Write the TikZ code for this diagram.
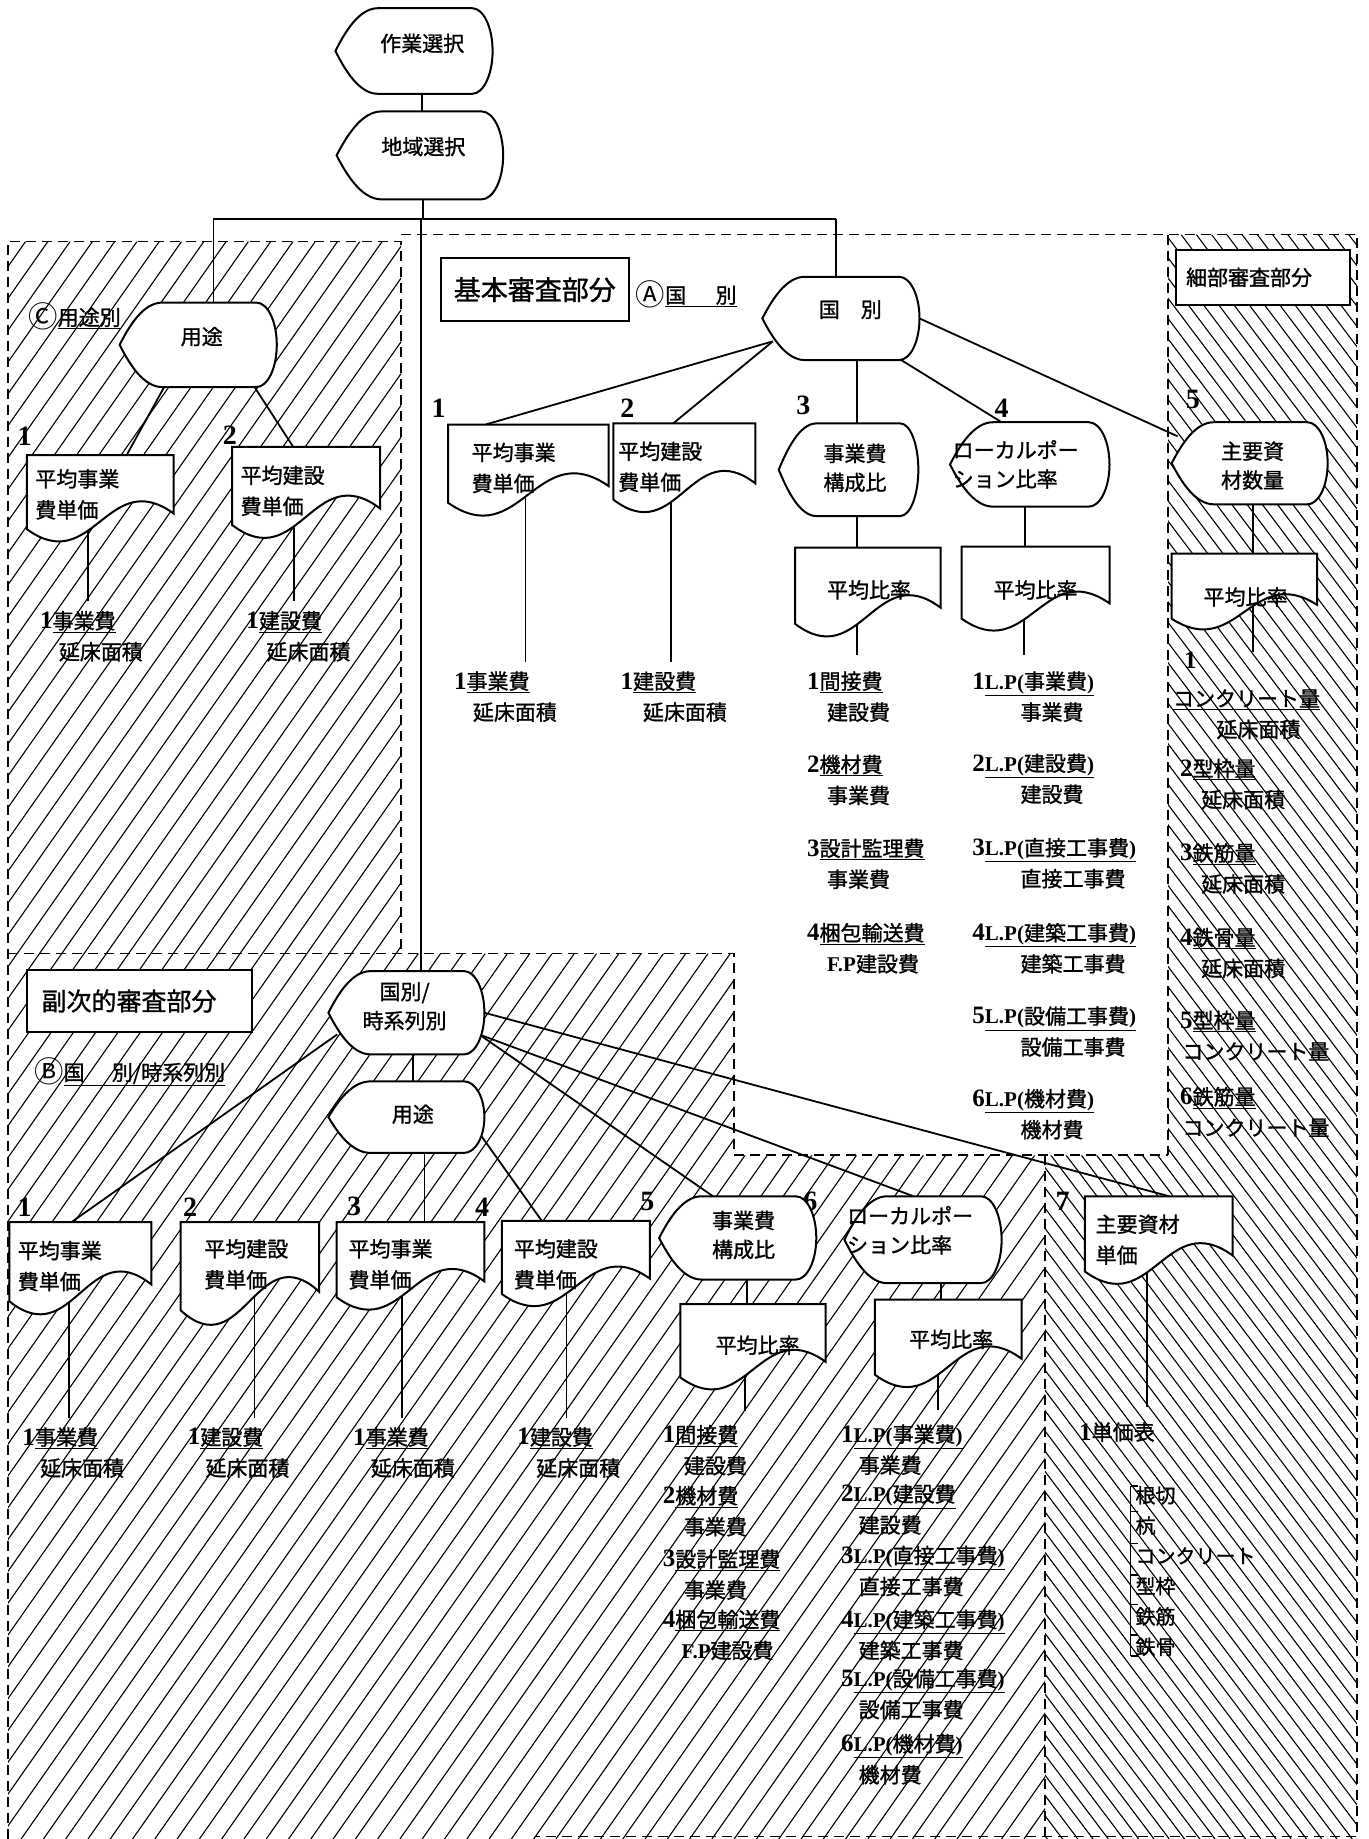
\documentclass[tikz,border=0pt]{standalone}
\usepackage{fontspec}
\setmainfont{Noto Sans CJK JP}[FakeBold=1.2]
\newfontfamily\sr{Liberation Serif}
\newfontfamily\cjkplain{Noto Sans CJK JP}
\usetikzlibrary{calc}
\pgfdeclarelayer{hatchl}
\pgfdeclarelayer{connl}
\pgfsetlayers{hatchl,connl,main}
\newlength\un \setlength\un{1.1731pt}
\newcommand\nb[1]{{\sr\bfseries\fontsize{25}{25}\selectfont #1}}
\newcommand\LPo{{\sr\bfseries L.P(}}
\newcommand\RPo{{\sr\bfseries )}}
\newcommand\FPo{{\sr\bfseries F.P}}
\newcommand\Cir[1]{\raisebox{-0.12em}{\scalebox{1.4}{\cjkplain #1}}}
\tikzset{
 shp/.style={draw=black, line width=2pt, fill=white},
 bx/.style={draw=none, inner sep=0pt, outer sep=0pt},
 stx/.style={inner sep=0pt, align=center, font=\fontsize{21}{29}\selectfont},
 dtx/.style={anchor=west, inner sep=0pt, align=left, font=\fontsize{21}{31}\selectfont},
 itm/.style={anchor=west, inner sep=0pt, align=left, font=\fontsize{21}{31}\selectfont},
 num/.style={inner sep=0pt, font=\sr\bfseries\fontsize{28}{28}\selectfont},
 con/.style={line width=1.8pt},
 dsh/.style={line width=1.6pt, dash pattern=on 10pt off 6pt},
 hat/.style={line width=1.1pt},
 hdr/.style={draw, line width=2pt, fill=white, inner sep=0pt},
}
\newcommand\Disp[8]{%
\pgfmathsetmacro\dXa{#2-#4/2}%
\pgfmathsetmacro\dXb{#2+#4/2}%
\pgfmathsetmacro\dYa{#3-#5/2}%
\pgfmathsetmacro\dYb{#3+#5/2}%
\pgfmathsetmacro\dXl{\dXa+0.27*#4}%
\pgfmathsetmacro\dXr{\dXb-0.13*#4}%
\pgfmathsetmacro\dCa{\dXa+0.06*#4}%
\pgfmathsetmacro\dCb{\dXl-0.12*#4}%
\pgfmathsetmacro\dCu{#3-0.22*#5}%
\pgfmathsetmacro\dCd{#3+0.22*#5}%
\pgfmathsetmacro\dRa{\dXb-0.058*#4}%
\pgfmathsetmacro\dRu{#3-0.276*#5}%
\pgfmathsetmacro\dRd{#3+0.276*#5}%
\path[shp] (\dXa,#3) .. controls (\dCa,\dCu) and (\dCb,\dYa) .. (\dXl,\dYa) -- (\dXr,\dYa) .. controls (\dRa,\dYa) and (\dXb,\dRu) .. (\dXb,#3) .. controls (\dXb,\dRd) and (\dRa,\dYb) .. (\dXr,\dYb) -- (\dXl,\dYb) .. controls (\dCb,\dYb) and (\dCa,\dCd) .. cycle;
\node[bx, minimum width={#4*1.1731pt}, minimum height={#5*1.1731pt}] (#1) at (#2,#3) {};
\node[stx] (#1-t) at (#6,#7) {#8};}
\newcommand\Doc[8]{%
\pgfmathsetmacro\dXb{#2+#4}%
\pgfmathsetmacro\dYR{#3+0.673*#5}%
\pgfmathsetmacro\dYL{#3+0.855*#5}%
\pgfmathsetmacro\dPa{#2+0.55*#4}%
\pgfmathsetmacro\dPay{#3+0.123*#5}%
\pgfmathsetmacro\dPb{#2+0.45*#4}%
\pgfmathsetmacro\dPby{#3+1.405*#5}%
\path[shp] (#2,#3) -- (\dXb,#3) -- (\dXb,\dYR) .. controls (\dPa,\dPay) and (\dPb,\dPby) .. (#2,\dYL) -- cycle;
\node[bx, minimum width={#4*1.1731pt}, minimum height={0.8*#5*1.1731pt}] (#1) at ({#2+#4/2},{#3+0.4*#5}) {};
\node[dtx] (#1-t) at (#6,#7) {#8};}
\newcommand\Itm[7]{\node[itm] (#1) at (#2,#3) {\nb{#4}\underline{#5}\\\hspace*{#6\un}#7};}
\newcommand\VL[4]{\path ($(#1.center)+(#2,0)$) coordinate (vtmp); \draw[con] (vtmp) -- ($(vtmp |- #3.north)+(0,-#4)$);}
\newcommand\VT[3]{\path ($(#1.south)+(#2,0)$) coordinate (vtmp); \draw[con] (vtmp) -- (vtmp |- #3.north);}
\begin{document}
\begin{tikzpicture}[x=1.1731pt, y=-1.1731pt]
\useasboundingbox (0,0) rectangle (1167,1568);
% ---------- hatching and region borders ----------
\begin{pgfonlayer}{hatchl}
\begin{scope}
\clip (7,206) -- (342,206) -- (342,813) -- (626,813) -- (626,985) -- (891,985) -- (891,1568) -- (7,1568) -- cycle;
\foreach \c in {-970,-951,...,900} \draw[hat] (\c,1568) -- (\c+1098,0);
\end{scope}
\begin{scope}
\clip (996,200) -- (1157,200) -- (1157,1568) -- (891,1568) -- (891,985) -- (996,985) -- cycle;
\foreach \c in {-150,-137,...,1160} \draw[hat] (\c,200) -- (\c+1030,1568);
\end{scope}
\draw[dsh] (7,1568) -- (7,206) -- (342,206) -- (342,813);
\draw[dsh] (342,200) -- (1157,200) -- (1157,1566) -- (457,1566);
\draw[dsh] (7,813) -- (626,813) -- (626,985) -- (996,985);
\draw[dsh] (996,200) -- (996,985);
\draw[dsh] (891,985) -- (891,1566);
\end{pgfonlayer}
% ---------- top ----------
\Disp{zs}{353}{43.5}{134}{73}{360}{37}{作業選択}
\Disp{cs}{358}{132.5}{142}{75}{361}{125}{地域選択}
% ---------- C region ----------
\Disp{yc}{169}{294}{134}{72}{172}{287}{用途}
\node[itm] (lc) at (24,270) {\Cir{Ⓒ}\underline{用途別}};
\node[num] (nc1) at (21,372) {1};
\node[num] (nc2) at (196,371) {2};
\Doc{dc1}{23}{388}{125}{74}{30}{421.5}{平均事業\\費単価}
\Doc{dc2}{198}{381}{126}{78}{205}{418.5}{平均建設\\費単価}
\Itm{ic1}{34}{542.5}{1}{事業費}{16}{延床面積}
\Itm{ic2}{210}{542.5}{1}{建設費}{17}{延床面積}
% ---------- A region ----------
\node[hdr, minimum width={160*1.1731pt}, minimum height={54*1.1731pt}, font=\fontsize{27}{27}\selectfont] (kh) at (456,247) {基本審査部分};
\node[itm] (la) at (542,251) {\Cir{Ⓐ}\underline{国\hspace{1.4em}別}};
\Disp{ka}{717}{271.5}{134}{71}{725}{264}{国\hspace{1em}別}
\node[num] (na1) at (374,348) {1};
\node[num] (na2) at (535,348) {2};
\node[num] (na3) at (685,346) {3};
\node[num] (na4) at (854,348) {4};
\node[num] (na5) at (1017,341) {5};
\Doc{da1}{382}{362}{137}{78}{402}{399}{平均事業\\費単価}
\Doc{da2}{523}{361}{121}{76}{527}{398}{平均建設\\費単価}
\Disp{k3}{723.5}{400.5}{119}{79}{729}{399}{事業費\\構成比}
\Disp{k4}{878}{396}{136}{72}{866}{396}{ローカルポー\\ション比率\hspace*{1em}}
\Disp{k5}{1065.5}{395}{133}{70}{1068}{397}{主要資\\材数量}
\Doc{pa3}{678}{467}{124}{76}{705}{503}{平均比率}
\Doc{pa4}{820}{466}{126}{72}{847}{503}{平均比率}
\Doc{pa5}{999}{472}{124}{65}{1026}{509}{平均比率}
\Itm{ia1}{387}{594}{1}{事業費}{16}{延床面積}
\Itm{ia2}{529}{594}{1}{建設費}{19}{延床面積}
\Itm{ia31}{688}{594}{1}{間接費}{17}{建設費}
\Itm{ia32}{688}{665}{2}{機材費}{17}{事業費}
\Itm{ia33}{688}{736.5}{3}{設計監理費}{17}{事業費}
\Itm{ia34}{688}{808.5}{4}{梱包輸送費}{17}{\FPo 建設費}
\Itm{ia41}{829}{594}{1}{\LPo 事業費\RPo}{41}{事業費}
\Itm{ia42}{829}{664}{2}{\LPo 建設費\RPo}{41}{建設費}
\Itm{ia43}{829}{736}{3}{\LPo 直接工事費\RPo}{41}{直接工事費}
\Itm{ia44}{829}{808.5}{4}{\LPo 建築工事費\RPo}{41}{建築工事費}
\Itm{ia45}{829}{879.5}{5}{\LPo 設備工事費\RPo}{41}{設備工事費}
\Itm{ia46}{829}{950}{6}{\LPo 機材費\RPo}{41}{機材費}
% ---------- D region ----------
\node[hdr, minimum width={148*1.1731pt}, minimum height={47*1.1731pt}, font=\fontsize{21}{21}\selectfont] (sh) at (1077,236.5) {細部審査部分\hspace*{24\un}};
\node[num, font=\sr\bfseries\fontsize{25}{25}\selectfont] (d1n) at (1015,563) {1};
\Itm{d1}{1000}{609}{}{コンクリート量}{37}{延床面積}
\Itm{d2}{1006}{668.5}{2}{型枠量}{18}{延床面積}
\Itm{d3}{1006}{740.5}{3}{鉄筋量}{18}{延床面積}
\Itm{d4}{1006}{812.5}{4}{鉄骨量}{18}{延床面積}
\Itm{d5}{1006}{883}{5}{型枠量}{2}{コンクリート量}
\Itm{d6}{1006}{948}{6}{鉄筋量}{2}{コンクリート量}
% ---------- B region ----------
\node[hdr, minimum width={192*1.1731pt}, minimum height={53*1.1731pt}, font=\fontsize{25}{25}\selectfont] (fh) at (119,853.5) {副次的審査部分\hspace*{18\un}};
\node[itm] (lb) at (29,914) {\Cir{Ⓑ}\underline{国\hspace{1.3em}別/時系列別}};
\Disp{kt}{346.5}{863.5}{133}{71}{345}{858}{国別/\\時系列別}
\Disp{yb}{346.5}{952.5}{133}{61}{352}{950}{用途}
\node[num] (nb1) at (21,1029) {1};
\node[num] (nb2) at (162,1029) {2};
\node[num] (nb3) at (302,1029) {3};
\node[num] (nb4) at (411,1029) {4};
\node[num] (nb5) at (552,1024) {5};
\node[num] (nb6) at (691,1024) {6};
\node[num] (nb7) at (906,1024) {7};
\Doc{db1}{8}{1042}{121}{79}{15}{1079.5}{平均事業\\費単価}
\Doc{db2}{154}{1042}{118}{88}{174}{1078}{平均建設\\費単価}
\Doc{db3}{287}{1042}{126}{75}{297}{1078}{平均事業\\費単価}
\Doc{db4}{428}{1041}{126}{73}{438}{1078}{平均建設\\費単価}
\Disp{b5}{629}{1055.5}{134}{71}{634}{1053}{事業費\\構成比}
\Disp{b6}{787}{1057}{134}{74}{776}{1049}{ローカルポー\\ション比率\hspace*{1em}}
\Doc{b7}{925}{1020}{126}{75}{934}{1057}{主要資材\\単価}
\Doc{bp5}{580}{1112}{124}{73}{610}{1147}{平均比率}
\Doc{bp6}{746}{1108}{125}{75}{775}{1142}{平均比率}
\Itm{ib1}{19}{1238.5}{1}{事業費}{15}{延床面積}
\Itm{ib2}{160}{1238.5}{1}{建設費}{15}{延床面積}
\Itm{ib3}{301}{1238.5}{1}{事業費}{15}{延床面積}
\Itm{ib4}{441}{1238.5}{1}{建設費}{16}{延床面積}
\Itm{ib51}{565}{1236.5}{1}{間接費}{18}{建設費}
\Itm{ib52}{565}{1288.5}{2}{機材費}{18}{事業費}
\Itm{ib53}{565}{1342.5}{3}{設計監理費}{18}{事業費}
\Itm{ib54}{565}{1394}{4}{梱包輸送費}{16}{\FPo 建設費}
\Itm{ib61}{717}{1236}{1}{\LPo 事業費\RPo}{15}{事業費}
\Itm{ib62}{717}{1287}{2}{\LPo 建設費}{15}{建設費}
\Itm{ib63}{717}{1339.5}{3}{\LPo 直接工事費\RPo}{15}{直接工事費}
\Itm{ib64}{717}{1394}{4}{\LPo 建築工事費\RPo}{15}{建築工事費}
\Itm{ib65}{717}{1444.5}{5}{\LPo 設備工事費\RPo}{15}{設備工事費}
\Itm{ib66}{717}{1500}{6}{\LPo 機材費\RPo}{15}{機材費}
\node[itm] (ib7) at (920,1221) {\nb{1}単価表};
\node[itm, font=\fontsize{20}{30.3}\selectfont] (lst) at (968,1339.5) {根切\\杭\\コンクリート\\型枠\\鉄筋\\鉄骨};
\draw[line width=1.4pt] (964,1267) -- (964,1412);
\foreach \yy in {1267,1289,1316,1343,1368,1394,1412} \draw[line width=1.4pt] (964,\yy) -- (970,\yy);
% ---------- connectors ----------
\begin{pgfonlayer}{connl}
\draw[con] (zs-t |- zs.south) -- (zs-t |- cs.north);
\coordinate (busL) at (182,187);
\coordinate (busR) at (713,187);
\coordinate (busM) at (359,187);
\draw[con] (busL) -- (busR);
\draw[con] (cs-t |- cs.south) -- (cs-t |- busL);
\draw[con] (busL) -- (busL |- yc.north);
\draw[con] (busR) -- (busR |- ka.north);
\draw[con] (busM) -- (busM |- kt.north);
% C
\draw[con] ($(yc.south west)+(38,0)$) -- ($(dc1.north west)+(85,0)$);
\draw[con] ($(yc.south west)+(115,0)$) -- ($(dc2.north west)+(52,0)$);
\VL{dc1}{-10.5}{ic1}{8}
\VL{dc2}{-10}{ic2}{8}
% A
\draw[con] ($(ka.center)+(-58,19.5)$) -- ($(da1.north west)+(32,0)$);
\draw[con] ($(ka.center)+(-58,19.5)$) -- ($(da2.north west)+(51,0)$);
\draw[con] ($(ka.south)+(14,0)$) -- ($(k3.north)+(7.5,0)$);
\draw[con] ($(ka.center)+(49,34)$) -- ($(k4.north west)+(44,0)$);
\draw[con] (ka.east) -- ($(k5.west)+(5,-23)$);
\VL{da1}{-2.5}{ia1}{8}
\VL{da2}{-11.5}{ia2}{8}
\VT{k3}{7.5}{pa3}
\VL{pa3}{-9}{ia31}{14}
\VT{k4}{-4}{pa4}
\VL{pa4}{-10}{ia41}{14}
\VT{k5}{2.5}{pa5}
\VL{pa5}{7}{d1n}{0}
% B
\draw[con] ($(kt.south)+(5.5,0)$) -- ($(yb.north)+(5.5,0)$);
\draw[con] ($(kt.center)+(-59,18.5)$) -- ($(db1.north west)+(53,0)$);
\draw[con] ($(yb.south)+(15.5,0)$) -- ($(db3.north)+(12,0)$);
\draw[con] ($(yb.center)+(58.5,8.5)$) -- ($(db4.north west)+(34,0)$);
\draw[con] ($(kt.center)+(62,18.5)$) -- ($(b5.north west)+(46,0)$);
\draw[con] ($(kt.center)+(62,18.5)$) -- ($(b6.north west)+(59,0)$);
\draw[con] (kt.east) -- ($(b7.north west)+(72,0)$);
\VT{b5}{8}{bp5}
\VL{bp5}{-7}{ib51}{12}
\VT{b6}{15}{bp6}
\VL{bp6}{-8.5}{ib61}{12}
\VL{b7}{-10}{ib7}{13}
\VL{db1}{-9.5}{ib1}{8}
\VL{db2}{4}{ib2}{8}
\VL{db3}{-7}{ib3}{8}
\VL{db4}{-8}{ib4}{8}
\end{pgfonlayer}
\end{tikzpicture}
\end{document}
